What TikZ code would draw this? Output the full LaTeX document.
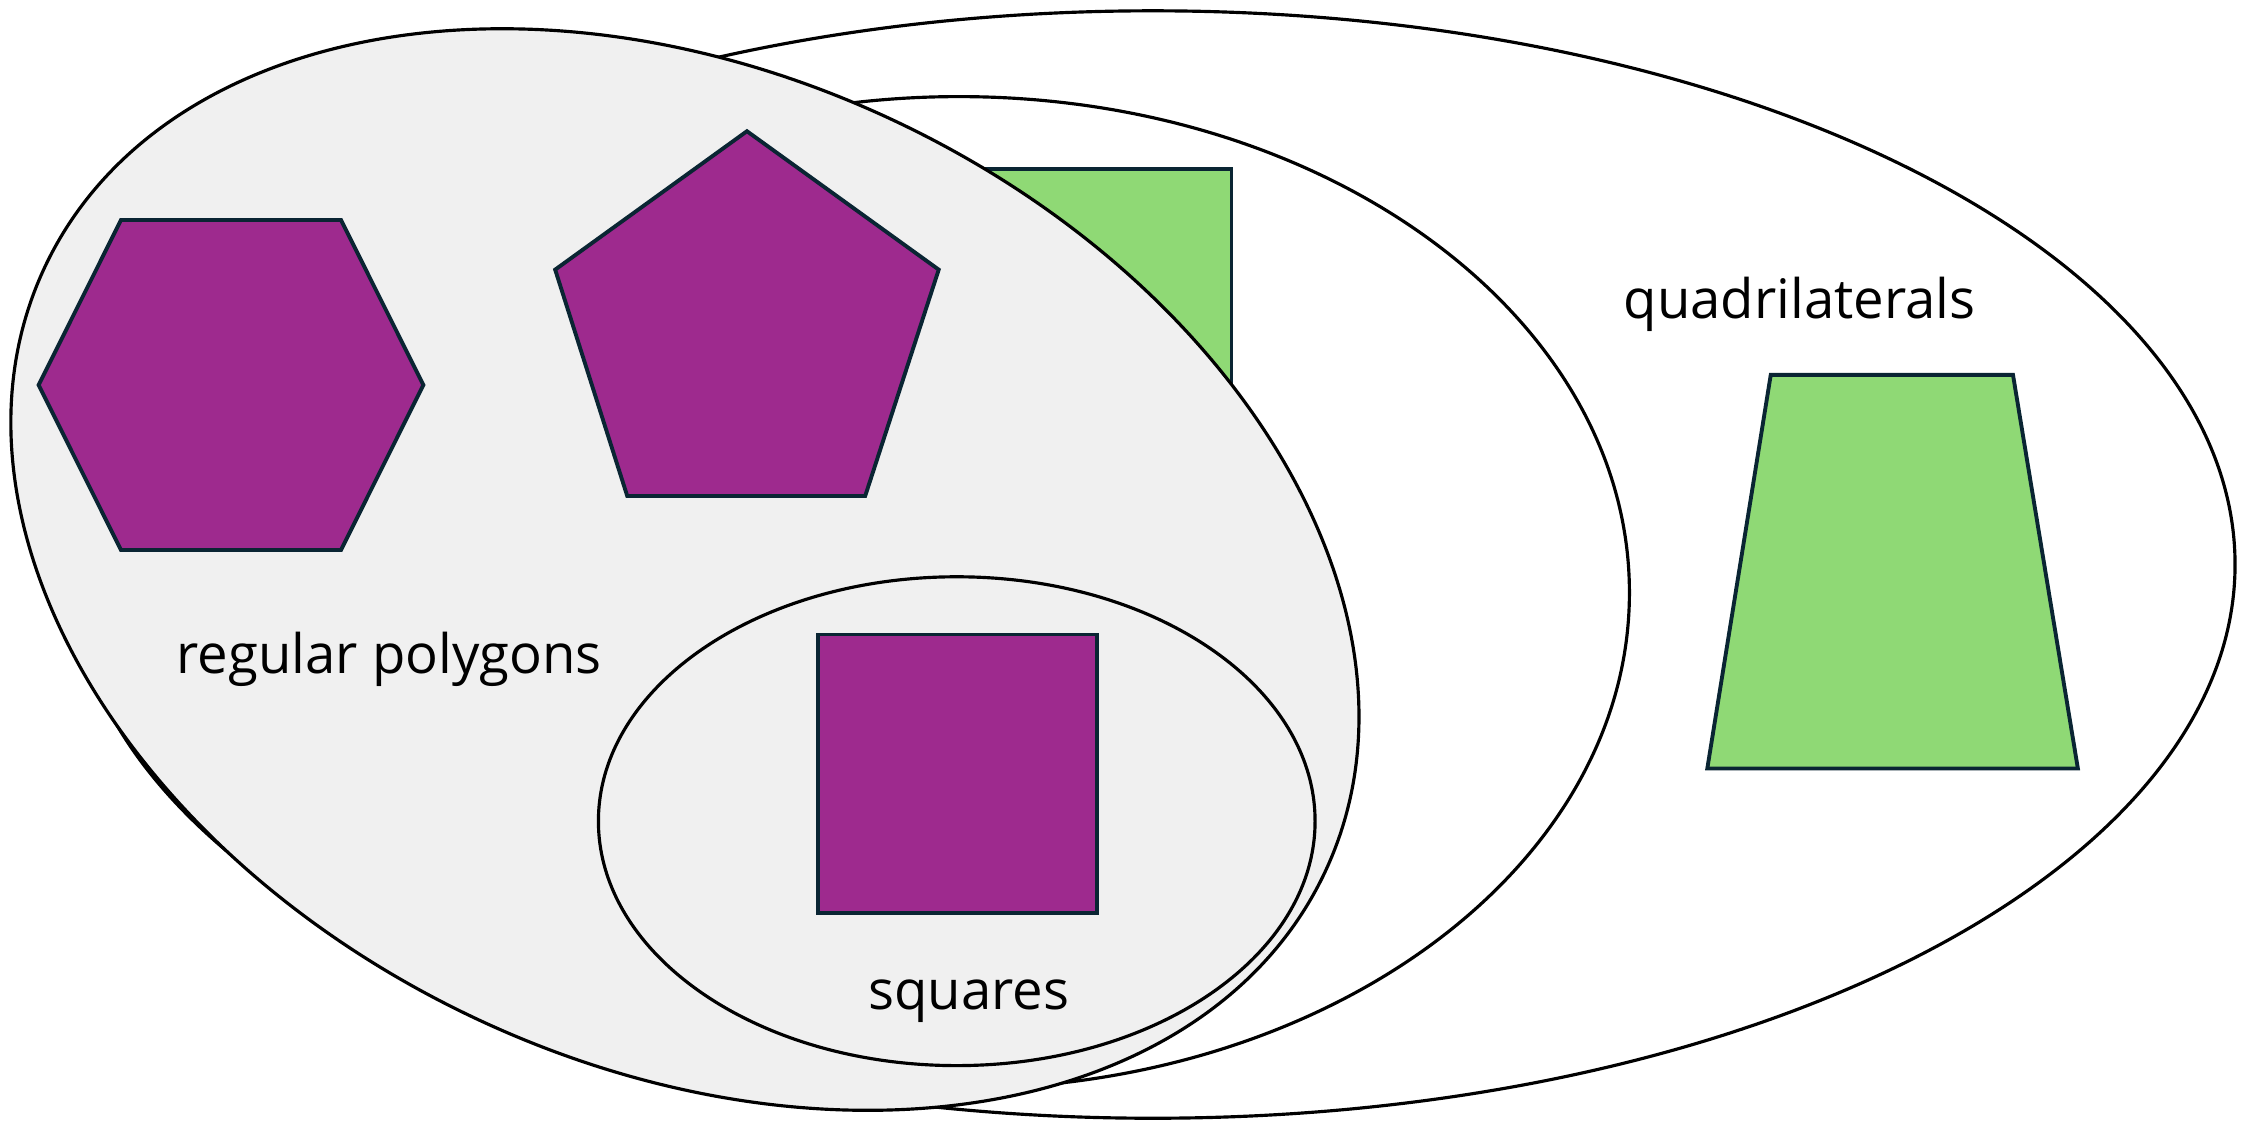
\documentclass[tikz,border=0pt]{standalone}
\usepackage{fontspec}
\setmainfont{Open Sans}
\usetikzlibrary{positioning}
\definecolor{regpurple}{RGB}{158,42,142}
\definecolor{quadgreen}{RGB}{143,217,117}
\definecolor{setgray}{RGB}{240,240,240}
\definecolor{edgenavy}{RGB}{10,37,51}
\tikzset{
  setline/.style={draw=black,line width=0.9pt},
  shapeline/.style={draw=edgenavy,line width=1.1pt,line join=miter},
  lbl/.style={font=\fontsize{15.5}{18}\selectfont,anchor=base}}

\begin{document}
\begin{tikzpicture}[x=0.01442cm,y=-0.01442cm]
\useasboundingbox (0,0) rectangle (1568,777);
\coordinate (quad) at (799.5,391.5);
\coordinate (rect) at (665,411);
\coordinate (reg) at (475,395);
\coordinate (sq) at (663.5,569.5);
\coordinate (hex) at (160.2,267);
\coordinate (pent) at (518,231);
% the two outer sets
\draw [setline] (quad) ellipse [x radius=750.5, y radius=384];
\draw [setline] (rect) ellipse [x radius=465, y radius=344];
\draw [shapeline,fill=quadgreen] (600,117) rectangle (854,330);
\draw [shapeline,fill=quadgreen] (1228,260) -- (1396,260) -- (1441,533) -- (1184,533) -- cycle;
% regular polygons
\draw [setline,fill=setgray,rotate around={-25.4:(reg)}] (reg) ellipse [x radius=491, y radius=343.5];
\draw [shapeline,fill=regpurple] (hex) +(-133.4,0) -- +(-76.3,-114.4) -- +(76.3,-114.4) -- +(133.4,0) -- +(76.3,114.4) -- +(-76.3,114.4) -- cycle;
\draw [shapeline,fill=regpurple] (pent) +(0,-140) -- +(133,-44) -- +(82,113) -- +(-83,113) -- +(-133,-44) -- cycle;
% squares
\draw [setline] (sq) ellipse [x radius=248.5, y radius=169.5];
\draw [shapeline,fill=regpurple] (567,440) rectangle (761,633);
\node [lbl] (reglbl) at (270,467) {regular polygons};
\node [lbl] (quadlbl) at (1248,221) {quadrilaterals};
\node [lbl] (sqlbl) at (672,700) {squares};
\end{tikzpicture}
\end{document}
